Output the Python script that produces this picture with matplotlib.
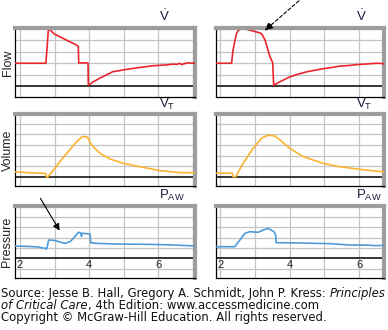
import math
import matplotlib
matplotlib.use("Agg")
import matplotlib.pyplot as plt

# ---------------- data (time in s, values in grid units) ----------------
flow_left_t = [1.85, 2.75, 2.79, 2.82, 2.86, 2.93, 3.0, 3.3, 3.6, 3.66, 3.69, 3.70, 3.97, 3.98, 4.05,
               4.11, 4.3, 4.5, 4.68, 5.0, 5.28, 5.6, 5.86, 6.2, 6.44, 6.55, 6.62, 6.68, 6.75, 6.85, 7.07]
flow_left_v = [2.0, 2.0, 3.6, 4.9, 4.95, 4.75, 4.55, 4.1, 3.65, 3.55, 3.45, 2.03, 2.03, 0.08, 0.2,
               0.35, 0.67, 0.97, 1.25, 1.42, 1.55, 1.68, 1.78, 1.85, 1.92, 1.9, 2.0, 1.88, 1.95, 2.03, 2.0]

flow_right_t = [1.87, 2.33, 2.37, 2.42, 2.47, 2.53, 2.6, 2.7, 2.8, 2.95, 3.1, 3.19, 3.29, 3.43, 3.51,
                3.54, 3.72, 4.0, 4.25, 4.49, 4.96, 5.2, 5.44, 5.7, 5.92, 6.2, 6.4, 6.55, 6.71]
flow_right_v = [2.0, 2.0, 3.1, 3.9, 4.6, 4.9, 5.0, 5.0, 4.95, 4.82, 4.7, 4.6, 4.05, 2.6, 2.05,
                0.07, 0.38, 0.8, 1.05, 1.25, 1.52, 1.62, 1.75, 1.8, 1.88, 1.93, 1.98, 2.0, 1.95]

vol_left_t = [1.85, 2.0, 2.4, 2.74, 2.77, 2.8, 2.97, 3.2, 3.35, 3.45, 3.64, 3.78, 3.82, 3.95, 4.07,
              4.32, 4.61, 4.99, 5.48, 6.06, 6.64, 7.07]
vol_left_v = [0.47, 0.42, 0.36, 0.3, -0.06, -0.04, 0.63, 1.6, 2.2, 2.55, 3.3, 3.72, 3.8, 3.75, 3.0,
              2.2, 1.67, 1.26, 0.94, 0.57, 0.38, 0.38]

vol_right_t = [1.87, 2.35, 2.37, 2.45, 2.66, 2.95, 3.19, 3.35, 3.43, 3.57, 3.72, 4.0, 4.39, 4.96,
               5.44, 5.92, 6.71]
vol_right_v = [0.33, 0.33, 0.0, 0.0, 1.26, 2.68, 3.62, 3.88, 3.9, 3.85, 3.46, 2.68, 1.89, 1.26,
               0.94, 0.73, 0.45]

pres_left_t = [1.85, 2.2, 2.5, 2.74, 2.77, 2.8, 2.83, 3.0, 3.3, 3.45, 3.59, 3.69, 3.76, 3.78, 3.8,
               3.9, 4.03, 4.05, 4.2, 4.8, 5.3, 5.75, 6.3, 6.94, 7.07]
pres_left_v = [1.18, 1.15, 1.1, 0.95, 0.89, 1.3, 1.76, 1.72, 1.44, 1.6, 2.08, 2.5, 2.45, 2.1, 2.4,
               2.38, 2.34, 1.5, 1.44, 1.37, 1.36, 1.34, 1.3, 1.21, 1.2]

pres_right_t = [1.87, 2.42, 2.57, 2.71, 2.85, 3.09, 3.24, 3.38, 3.55, 3.6, 3.61, 3.9, 4.77, 5.2,
                5.73, 6.2, 6.5, 6.71]
pres_right_v = [1.12, 1.12, 1.76, 2.4, 2.56, 2.5, 2.72, 2.88, 2.56, 2.2, 1.5, 1.5, 1.44, 1.4,
                1.28, 1.27, 1.22, 1.25]

x_tick_labels = ["2", "4", "6"]
x_tick_pos = [2, 4, 6]
row_labels = ["Flow", "Volume", "Pressure"]
row_titles = [r"$\dot{\mathregular{V}}$", r"$\mathregular{V_T}$", r"$\mathregular{P_{AW}}$"]

footer = ["Source: Jesse B. Hall, Gregory A. Schmidt, John P. Kress: ",
          "Principles",
          "of Critical Care",
          ", 4th Edition: www.accessmedicine.com",
          "Copyright \u00a9 McGraw-Hill Education. All rights reserved."]

# ---------------- layout ----------------
W, H = 388, 330
fig = plt.figure(figsize=(W / 100, H / 100), dpi=100)
plt.rcParams['mathtext.fontset'] = 'custom'
plt.rcParams['mathtext.rm'] = 'Liberation Sans'
plt.rcParams['mathtext.it'] = 'Liberation Sans'

def px_axes(x0, x1, ytop, ybot):
    return fig.add_axes([x0 / W, 1 - ybot / H, (x1 - x0) / W, (ybot - ytop) / H])

rows = [(28, 97, (-0.96, 5.09)), (114, 186, (-0.88, 5.92)), (206, 278.3, (-1.92, 5.03))]
cols = [(15, 195, (1.855, 7.07)), (215.5, 384, (1.868, 6.71))]

series = {
    (0, 0): (flow_left_t, flow_left_v, "#e8262d"),
    (0, 1): (flow_right_t, flow_right_v, "#e8262d"),
    (1, 0): (vol_left_t, vol_left_v, "#fbb331"),
    (1, 1): (vol_right_t, vol_right_v, "#fbb331"),
    (2, 0): (pres_left_t, pres_left_v, "#4f9bd9"),
    (2, 1): (pres_right_t, pres_right_v, "#4f9bd9"),
}

grid_c = "#c4c4c4"
border_c = "#9d9d9d"

for r, (ytop, ybot, ylim) in enumerate(rows):
    for c, (x0, x1, xlim) in enumerate(cols):
        ax = px_axes(x0, x1, ytop, ybot)
        ax.set_xlim(*xlim)
        ax.set_ylim(*ylim)
        for gx in range(2, 8):
            ax.axvline(gx, color=grid_c, lw=0.9, zorder=0)
        for gy in range(math.ceil(ylim[0]), int(ylim[1]) + 1):
            if gy == 0:
                continue
            ax.axhline(gy, color=grid_c, lw=0.9, zorder=0)
        ax.axhline(0, color="black", lw=1.1, zorder=1)
        t, v, col = series[(r, c)]
        ax.plot(t, v, color=col, lw=1.2, zorder=3, solid_joinstyle="round")
        ax.set_xticks([])
        ax.set_yticks([])
        for s in ("left", "bottom"):
            ax.spines[s].set_color("black")
            ax.spines[s].set_linewidth(0.9)
        for s in ("top", "right"):
            ax.spines[s].set_color(border_c)
            ax.spines[s].set_linewidth(3.0)
            ax.spines[s].set_capstyle("projecting")
        ax.spines["top"].set_zorder(4)
        if r == 2:
            for p, lab in zip(x_tick_pos, x_tick_labels):
                ax.text(p, -0.15, lab, ha="center", va="top", fontsize=8,
                        family="Liberation Sans", color="#222222")
        tx = 159 if c == 0 else 356
        ty = [16, 104, 195][r]
        fig.text(tx / W, 1 - ty / H, row_titles[r], ha="left", va="center",
                 fontsize=9.5, color="#1c1c3c", family="Liberation Sans")
    fig.text(7.5 / W, 1 - (ytop + ybot) / 2 / H, row_labels[r], rotation=90,
             ha="center", va="center", fontsize=9, family="Liberation Sans", color="#222222")

# arrows
fig.add_artist(matplotlib.patches.FancyArrowPatch(
    (39 / W, 1 - 196 / H), (61 / W, 1 - 233 / H), transform=fig.transFigure,
    arrowstyle="-|>,head_length=4,head_width=2", color="black", lw=0.8, mutation_scale=1))
fig.add_artist(matplotlib.patches.FancyArrowPatch(
    (301 / W, 1 - (-1) / H), (262.5 / W, 1 - 32.5 / H), transform=fig.transFigure,
    arrowstyle="-|>,head_length=5,head_width=2.3", color="black", lw=0.8,
    linestyle=(0, (3, 2)), mutation_scale=1))

# footer
fs = 8.35
rend = fig.canvas.get_renderer()
def put(x, y, s, italic=False):
    t = fig.text(x / W, 1 - y / H, s, fontsize=fs, ha="left", va="center",
                 style="italic" if italic else "normal", family="DejaVu Sans", color="#111111")
    return x + t.get_window_extent(rend).width

xe = put(1, 294, footer[0])
put(xe, 294, footer[1], italic=True)
xe = put(1, 305.5, footer[2], italic=True)
put(xe, 305.5, footer[3])
put(1, 317, footer[4])

fig.savefig("out.png", dpi=100)
